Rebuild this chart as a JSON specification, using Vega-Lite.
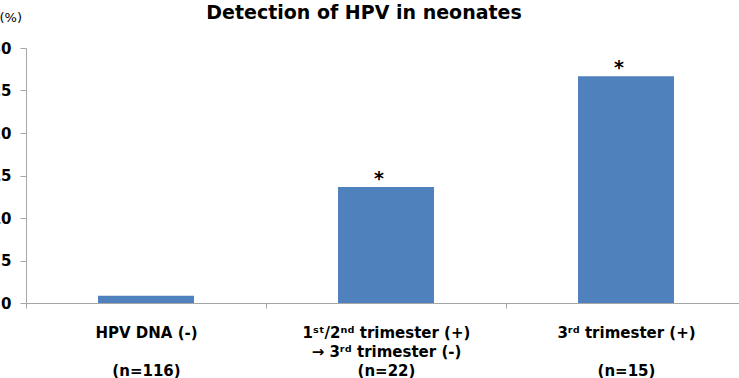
{
  "$schema": "https://vega.github.io/schema/vega-lite/v6.json",
  "width": 720,
  "height": 255,
  "autosize": {"type": "none"},
  "padding": {"left": 26, "top": 48, "right": -7, "bottom": 75},
  "background": "white",
  "title": {
    "text": "Detection of HPV in neonates",
    "font": "DejaVu Sans",
    "fontSize": 19,
    "fontWeight": "bold",
    "color": "#000000",
    "anchor": "middle",
    "dx": -22,
    "offset": -12
  },
  "config": {
    "view": {"stroke": null},
    "axis": {"grid": false}
  },
  "data": {
    "values": [
      {"label": "HPV DNA (-)|\u200b|(n=116)", "pct": 0.86, "star": ""},
      {"label": "1ˢᵗ/2ⁿᵈ trimester (+)|→ 3ʳᵈ trimester (-)|(n=22)", "pct": 13.64, "star": "*"},
      {"label": "3ʳᵈ trimester (+)|\u200b|(n=15)", "pct": 26.67, "star": "*"}
    ]
  },
  "encoding": {
    "x": {
      "field": "label",
      "type": "nominal",
      "sort": null,
      "scale": {"paddingInner": 0, "paddingOuter": 0},
      "axis": {
        "title": null,
        "labelAngle": 0,
        "ticks": true,
        "tickBand": "extent",
        "tickSize": 5,
        "tickColor": "#A6A6A6",
        "domainColor": "#A6A6A6",
        "labelExpr": "split(datum.label, '|')",
        "labelFont": "DejaVu Sans",
        "labelFontSize": 15,
        "labelFontWeight": "bold",
        "labelColor": "#000000",
        "labelLineHeight": 19,
        "labelPadding": 17
      }
    },
    "y": {
      "field": "pct",
      "type": "quantitative",
      "scale": {"domain": [0, 30], "nice": false},
      "axis": {
        "title": "(%)",
        "titleAngle": 0,
        "titleAlign": "left",
        "titleBaseline": "middle",
        "titleX": -27,
        "titleY": -31,
        "titleFont": "DejaVu Sans",
        "titleFontSize": 13,
        "titleFontWeight": "normal",
        "titleColor": "#000000",
        "values": [0, 5, 10, 15, 20, 25, 30],
        "labelFont": "DejaVu Sans",
        "labelFontSize": 15,
        "labelFontWeight": "bold",
        "labelColor": "#000000",
        "labelPadding": 9,
        "tickSize": 6,
        "tickColor": "#A6A6A6",
        "domainColor": "#A6A6A6"
      }
    }
  },
  "layer": [
    {
      "mark": {"type": "bar", "color": "#4F81BD", "width": {"band": 0.4}}
    },
    {
      "mark": {"type": "text", "baseline": "bottom", "dy": 2, "dx": -7, "fontSize": 19, "fontWeight": "bold", "font": "DejaVu Sans", "color": "#000000"},
      "encoding": {
        "text": {"field": "star"}
      }
    }
  ]
}
